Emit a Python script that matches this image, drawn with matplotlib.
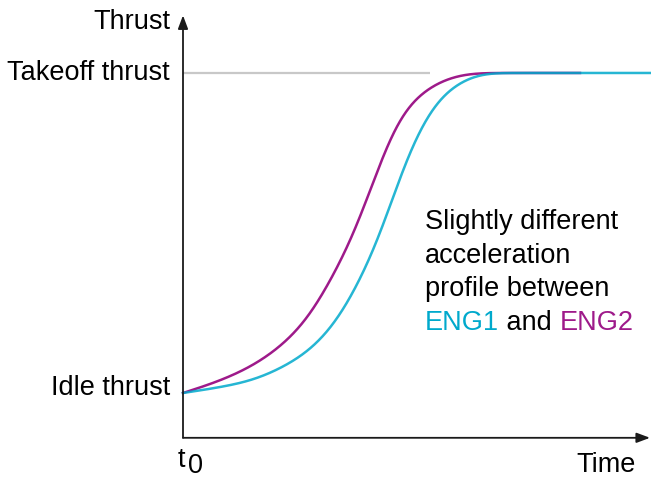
import numpy as np
import matplotlib
matplotlib.use("Agg")
import matplotlib.pyplot as plt

plt.rcParams['font.family'] = ['Liberation Sans', 'DejaVu Sans']

# Time (arbitrary units from t0) and thrust (0 = idle, 1 = takeoff)
eng2_t = [0.00, 0.33, 0.67, 0.93, 1.17, 1.33, 1.47, 1.67, 1.77, 1.87, 2.02, 2.10, 2.30, 2.54, 2.77, 2.97, 3.97]
eng2_thrust = [0.000, 0.034, 0.081, 0.134, 0.203, 0.269, 0.350, 0.466, 0.541, 0.634, 0.759, 0.831, 0.916, 0.969, 0.994, 1.000, 1.000]
eng1_t = [0.00, 0.33, 0.67, 1.00, 1.27, 1.47, 1.63, 1.77, 1.97, 2.17, 2.27, 2.37, 2.57, 2.77, 2.97, 3.07, 4.68]
eng1_thrust = [0.000, 0.016, 0.038, 0.081, 0.134, 0.197, 0.269, 0.353, 0.488, 0.681, 0.759, 0.831, 0.925, 0.972, 0.997, 1.000, 1.000]

axis_labels = {"y": "Thrust", "x": "Time"}
level_labels = {"Takeoff thrust": 1.0, "Idle thrust": 0.016}
note_lines = ["Slightly different", "acceleration", "profile between"]

CYAN = "#00A9CC"
MAGENTA = "#9E1A8A"
AXIS = "#1a1a1a"


def smooth_curve(x, y, step=0.005, sigma=0.14):
    """Monotone cubic through the points, then a light Gaussian smoothing for drawing."""
    x = np.asarray(x, float); y = np.asarray(y, float)
    h = np.diff(x); d = np.diff(y) / h
    m = np.zeros_like(y)
    for k in range(1, len(x) - 1):
        if d[k - 1] * d[k] > 0:
            w1 = 2 * h[k] + h[k - 1]; w2 = h[k] + 2 * h[k - 1]
            m[k] = (w1 + w2) / (w1 / d[k - 1] + w2 / d[k])
    m[0] = d[0]; m[-1] = d[-1]
    xs = np.arange(x[0], x[-1] + step / 2, step)
    idx = np.clip(np.searchsorted(x, xs) - 1, 0, len(h) - 1)
    t = (xs - x[idx]) / h[idx]
    h00 = 2 * t**3 - 3 * t**2 + 1; h10 = t**3 - 2 * t**2 + t
    h01 = -2 * t**3 + 3 * t**2; h11 = t**3 - t**2
    ys = h00 * y[idx] + h10 * h[idx] * m[idx] + h01 * y[idx + 1] + h11 * h[idx] * m[idx + 1]
    n = int(4 * sigma / step)
    k = np.exp(-0.5 * (np.arange(-n, n + 1) * step / sigma) ** 2); k /= k.sum()
    left = 2 * ys[0] - ys[1:n + 1][::-1]
    right = np.full(n, ys[-1])
    yp = np.concatenate([left, ys, right])
    ysm = np.convolve(yp, k, mode="valid")
    return xs, ysm


fig = plt.figure(figsize=(6.51, 4.78), dpi=100)
ax = fig.add_axes([0, 0, 1, 1])
ax.set_xlim(-1.83, 4.68)
ax.set_ylim(-0.2656, 1.228)
ax.axis("off")

y_axis_base = -0.14

# takeoff reference line
ax.plot([0, 2.47], [1, 1], color="#c8c8c8", lw=1.6, solid_capstyle="butt", zorder=1)

# curves
x2, y2 = smooth_curve(eng2_t, eng2_thrust)
x1, y1 = smooth_curve(eng1_t, eng1_thrust)
ax.plot(x2, y2, color=MAGENTA, lw=1.8, zorder=2)
ax.plot(x1, y1, color=CYAN, lw=1.8, alpha=0.85, zorder=3)

# axes with arrows
ax.annotate("", xy=(0, 1.18), xytext=(0, y_axis_base),
            arrowprops=dict(arrowstyle="-|>,head_length=0.8,head_width=0.3", color=AXIS, lw=1.3,
                            shrinkA=0, shrinkB=0))
ax.annotate("", xy=(4.67, y_axis_base), xytext=(0, y_axis_base),
            arrowprops=dict(arrowstyle="-|>,head_length=0.8,head_width=0.3", color=AXIS, lw=1.3,
                            shrinkA=0, shrinkB=0))

fs = 19.5
ax.text(-0.13, 1.159, axis_labels["y"], ha="right", va="center", fontsize=fs)
for lab, yv in level_labels.items():
    ax.text(-0.13, yv, lab, ha="right", va="center", fontsize=fs)
ax.text(4.53, -0.225, axis_labels["x"], ha="right", va="center", fontsize=fs)
ax.text(-0.05, -0.209, "t", ha="left", va="center", fontsize=fs)
ax.text(0.05, -0.228, "0", ha="left", va="center", fontsize=fs)

# note text
nx = 2.42
ny = [0.534, 0.428, 0.325]
for s, yv in zip(note_lines, ny):
    ax.text(nx, yv, s, ha="left", va="center", fontsize=fs)

fig.canvas.draw()
r = fig.canvas.get_renderer()
y_last = 0.219
pieces = [("ENG1", CYAN), (" and ", "black"), ("ENG2", MAGENTA)]
cur = nx
for s, c in pieces:
    t = ax.text(cur, y_last, s, ha="left", va="center", fontsize=fs, color=c)
    bb = t.get_window_extent(renderer=r)
    (x0, _), (x1_, _) = ax.transData.inverted().transform([[bb.x0, bb.y0], [bb.x1, bb.y1]])
    cur += (x1_ - x0)

fig.savefig("out.png", dpi=100)
